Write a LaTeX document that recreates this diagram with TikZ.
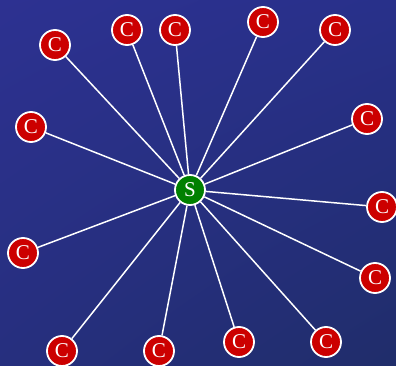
\documentclass[tikz,border=0pt]{standalone}
\usepackage{tikz}
\usepackage{fontspec}
\setmainfont{Liberation Serif}
\usetikzlibrary{shadings}
\definecolor{bgtl}{HTML}{2D3191}
\definecolor{bgtr}{HTML}{28308A}
\definecolor{bgbl}{HTML}{262F7E}
\definecolor{bgbr}{HTML}{202D6A}
\definecolor{cred}{HTML}{CC0000}
\definecolor{sgreen}{HTML}{008000}
\begin{document}
\begin{tikzpicture}[x=1pt,y=-1pt,every node/.style={font=\fontsize{21}{21}\selectfont},
  client/.style={circle,draw=white,line width=1.8pt,fill=cred,text=white,minimum size=30pt,inner sep=0pt},
  server/.style={client,fill=sgreen},
  link/.style={draw=white,line width=1.5pt}]
  \shade[upper left=bgtl,upper right=bgtr,lower left=bgbl,lower right=bgbr] (0,0) rectangle (396,366);
  \useasboundingbox (0,0) rectangle (396,366);
  \node[server] (s) at (190,190) {S};
  \node[client] (c1) at (55,45) {C};
  \node[client] (c2) at (127,30) {C};
  \node[client] (c3) at (175,30) {C};
  \node[client] (c4) at (263,22) {C};
  \node[client] (c5) at (335,30) {C};
  \node[client] (c6) at (367,119) {C};
  \node[client] (c7) at (31,127) {C};
  \node[client] (c8) at (382,207) {C};
  \node[client] (c9) at (23,253) {C};
  \node[client] (c10) at (375,278) {C};
  \node[client] (c11) at (62,351) {C};
  \node[client] (c12) at (159,351) {C};
  \node[client] (c13) at (239,342) {C};
  \node[client] (c14) at (326,342) {C};
  \foreach \i in {1,...,14}
    \draw[link] (s) -- (c\i);
\end{tikzpicture}
\end{document}
